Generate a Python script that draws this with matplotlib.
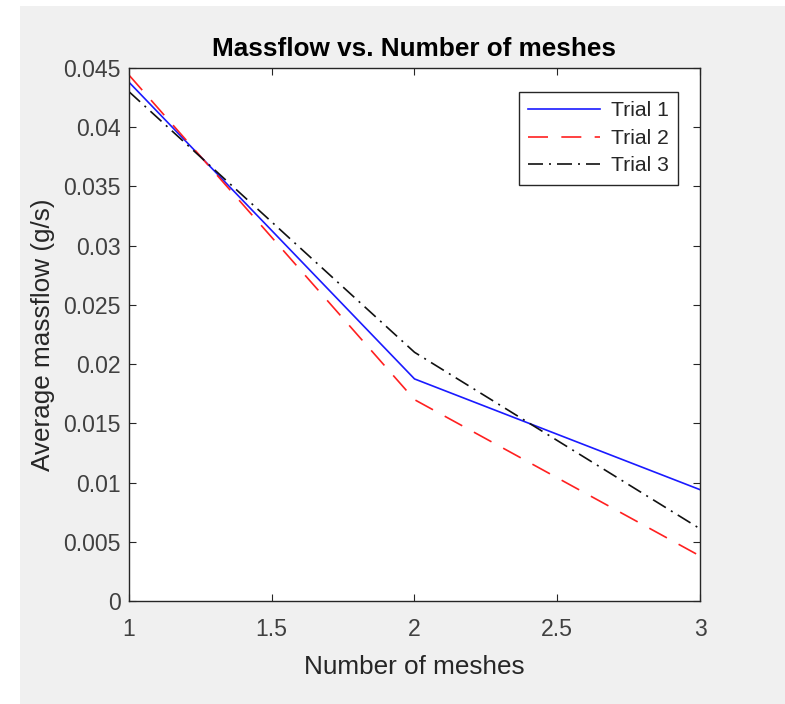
import matplotlib
matplotlib.use("Agg")
import matplotlib.pyplot as plt
from matplotlib.patches import Rectangle

meshes = [1, 2, 3]
trial1 = [0.0438, 0.01875, 0.0094]
trial2 = [0.0444, 0.0170, 0.0038]
trial3 = [0.0430, 0.0210, 0.0061]
labels = ["Trial 1", "Trial 2", "Trial 3"]
xticks = [1, 1.5, 2, 2.5, 3]
xticklabels = ["1", "1.5", "2", "2.5", "3"]
yticks = [0, 0.005, 0.01, 0.015, 0.02, 0.025, 0.03, 0.035, 0.04, 0.045]
yticklabels = ["0", "0.005", "0.01", "0.015", "0.02", "0.025", "0.03", "0.035", "0.04", "0.045"]

plt.rcParams['font.family'] = ['Liberation Sans', 'DejaVu Sans']

W, H = 785, 704
fig = plt.figure(figsize=(W / 100, H / 100), dpi=100, facecolor='white')
fig.patches.append(Rectangle((20 / W, 0), 1 - 20 / W, (H - 6) / H,
                             transform=fig.transFigure, facecolor='#f0f0f0',
                             edgecolor='none', zorder=-10))

ax = fig.add_axes([129 / W, (H - 601) / H, (700 - 129) / W, (601 - 68) / H])
ax.set_facecolor('white')

ax.plot(meshes, trial1, color='#1a1aff', lw=1.2, label=labels[0])
ax.plot(meshes, trial2, color='#ff2020', lw=1.2, dashes=(12, 8), label=labels[1])
ax.plot(meshes, trial3, color='#111111', lw=1.2, dashes=(9, 3.6, 1.2, 3.6), label=labels[2])

ax.set_xlim(1, 3)
ax.set_ylim(0, 0.045)
ax.set_xticks(xticks)
ax.set_xticklabels(xticklabels)
ax.set_yticks(yticks)
ax.set_yticklabels(yticklabels)

dark = '#262626'
ax.tick_params(direction='in', length=5, width=0.8, colors=dark,
               top=True, right=True, labelsize=16.6, labelcolor='#404040')
ax.tick_params(axis='x', pad=12)
ax.tick_params(axis='y', pad=6)
for s in ax.spines.values():
    s.set_color(dark)
    s.set_linewidth(1.0)

ax.set_title("Massflow vs. Number of meshes", fontsize=18.8, fontweight='bold',
             color='black', pad=9)
ax.set_xlabel("Number of meshes", fontsize=18.8, color='#262626', labelpad=10)
ax.set_ylabel("Average massflow (g/s)", fontsize=18.8, color='#262626', labelpad=6)

leg = ax.legend(loc='upper right', bbox_to_anchor=(0.9615, 0.955), fontsize=15.2,
                handlelength=3.4, handletextpad=0.5, labelspacing=0.4,
                borderpad=0.45, borderaxespad=0, fancybox=False, framealpha=1,
                edgecolor=dark)
leg.get_frame().set_linewidth(1.0)
for t in leg.get_texts():
    t.set_color('#262626')

fig.savefig("out.png", dpi=100, facecolor=fig.get_facecolor())
